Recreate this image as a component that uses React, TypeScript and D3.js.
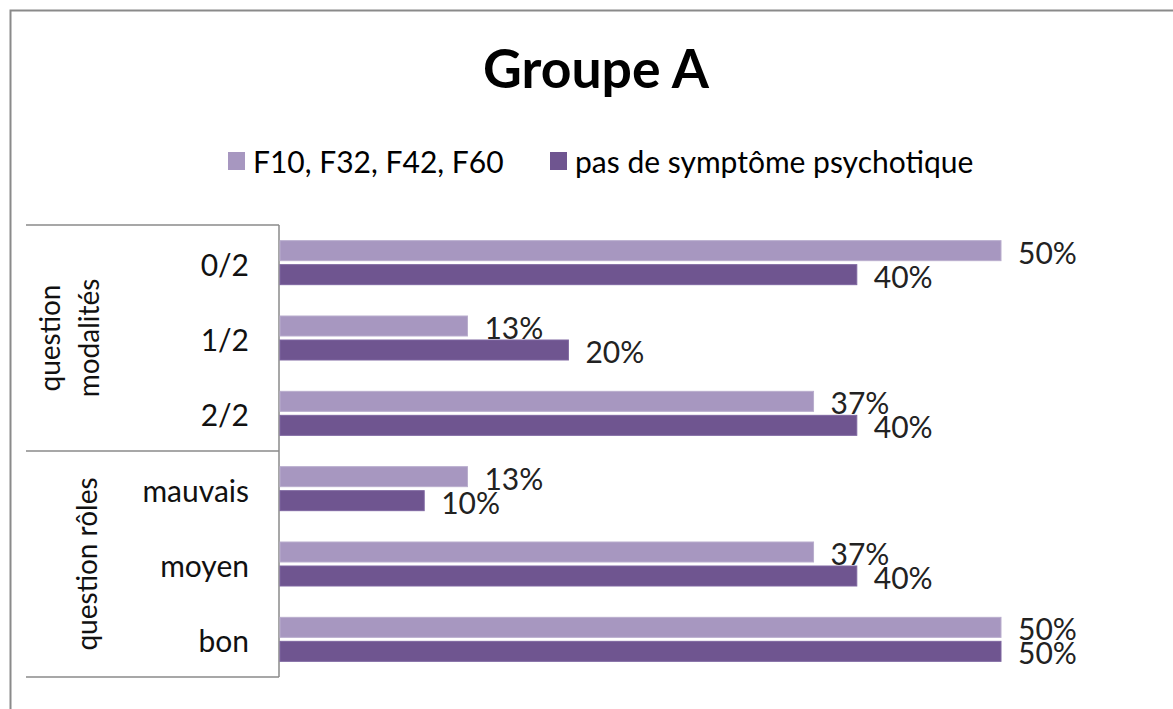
import React from "react";
import * as d3 from "d3";

const categories = ["0/2", "1/2", "2/2", "mauvais", "moyen", "bon"];
const groupLabels = [["question", "modalités"], ["question rôles"]];
const groupSizes = [3, 3];
const seriesNames = ["F10, F32, F42, F60", "pas de symptôme psychotique"];
const seriesLight = [0.5, 0.13, 0.37, 0.13, 0.37, 0.5];
const seriesDark = [0.4, 0.2, 0.4, 0.1, 0.4, 0.5];
const seriesColors = ["#A797C0", "#6F5590"];
const title = "Groupe A";

const W = 1173;
const H = 709;
const FONT = "Lato, 'Open Sans', sans-serif";

export default function App() {
  const plotTop = 225;
  const plotBottom = 677;
  const x = d3.scaleLinear().domain([0, 0.5]).range([280, 1001]);
  const y = d3
    .scaleBand<string>()
    .domain(categories)
    .range([plotTop, plotBottom])
    .paddingInner(0.416)
    .paddingOuter(0.208);
  const sub = d3
    .scaleBand<number>()
    .domain([0, 1])
    .range([0, y.bandwidth()])
    .paddingInner(0.167);
  const series = [seriesLight, seriesDark];
  const fmt = d3.format(".0%");

  const bounds: number[] = [plotTop];
  let acc = 0;
  groupSizes.forEach((s) => {
    acc += s;
    bounds.push(plotTop + y.step() * acc);
  });

  return (
    <svg
      width={W}
      height={H}
      style={{ position: "absolute", left: 0, top: 0, background: "#fff" }}
      fontFamily={FONT}
    >
      <rect x={0} y={0} width={W} height={H} fill="#fff" />
      <rect
        x={10.5}
        y={10.5}
        width={W + 20}
        height={H + 20}
        fill="none"
        stroke="#8a8a8a"
        strokeWidth={2}
      />
      <text
        x={596}
        y={88}
        textAnchor="middle"
        fontWeight="bold"
        fontSize={53.5}
        fill="#000"
      >
        {title}
      </text>

      {/* legend */}
      {seriesNames.map((name, i) => {
        const lx = i === 0 ? 228 : 550;
        return (
          <g key={name}>
            <rect x={lx} y={152} width={17} height={18} fill={seriesColors[i]} />
            <text
              x={lx + 25}
              y={161}
              dominantBaseline="central"
              fontSize={30}
              fill="#000"
            >
              {name}
            </text>
          </g>
        );
      })}

      {/* category box lines */}
      {bounds.map((b, i) => (
        <line
          key={"b" + i}
          x1={26}
          x2={279}
          y1={b}
          y2={b}
          stroke="#8a8a8a"
          strokeWidth={1.5}
        />
      ))}
      <line
        x1={279}
        x2={279}
        y1={plotTop}
        y2={plotBottom}
        stroke="#8a8a8a"
        strokeWidth={1.5}
      />

      {/* bars */}
      {categories.map((c, ci) => (
        <g key={c}>
          {series.map((s, si) => {
            const by = (y(c) as number) + (sub(si) as number);
            return (
              <g key={si}>
                <rect
                  x={x(0)}
                  y={by}
                  width={x(s[ci]) - x(0)}
                  height={sub.bandwidth()}
                  fill={seriesColors[si]}
                  stroke={si === 0 ? "#B9ADCD" : "#7E66A0"}
                  strokeWidth={1}
                />
                <text
                  x={x(s[ci]) + 17}
                  y={by + sub.bandwidth() / 2 + 1}
                  dominantBaseline="central"
                  fontSize={30}
                  fill="#222"
                >
                  {fmt(s[ci])}
                </text>
              </g>
            );
          })}
          <text
            x={249}
            y={(y(c) as number) + y.bandwidth() / 2 + 1}
            textAnchor="end"
            dominantBaseline="central"
            fontSize={30}
            fill="#111"
          >
            {c}
          </text>
        </g>
      ))}

      {/* group labels */}
      {groupLabels.map((lines, gi) => {
        const cy = (bounds[gi] + bounds[gi + 1]) / 2;
        const baseXs = lines.length === 2 ? [60, 99] : [97];
        return lines.map((ln, li) => (
          <text
            key={gi + "-" + li}
            transform={`translate(${baseXs[li]},${cy}) rotate(-90)`}
            textAnchor="middle"
            fontSize={28}
            fill="#111"
          >
            {ln}
          </text>
        ));
      })}
    </svg>
  );
}
